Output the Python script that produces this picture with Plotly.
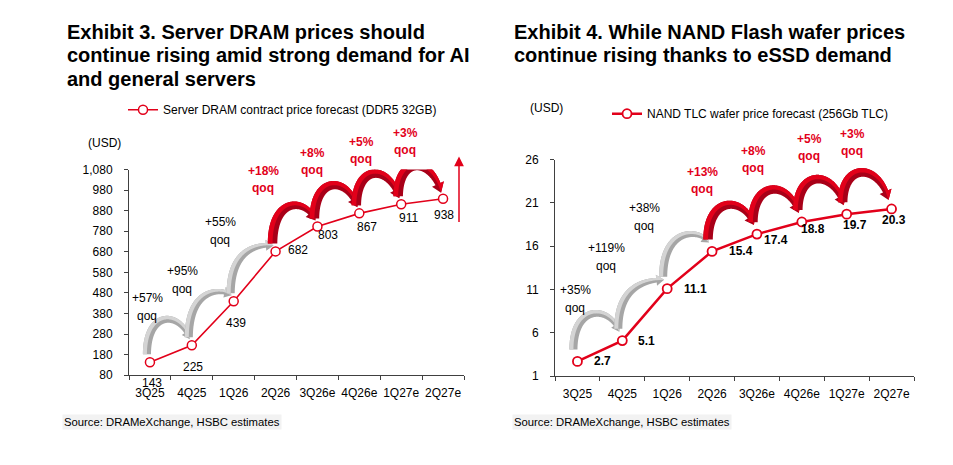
import numpy as np
import plotly.graph_objects as go

W, H = 953, 465          # browser window
OX = OY = 8              # default page margin around the figure
FW, FH = W - 2 * OX, H - 2 * OY
VS, VO = 0.971, 7.3      # vertical mapping page -> photo, measured with a test frame

quarters = ["3Q25", "4Q25", "1Q26", "2Q26", "3Q26e", "4Q26e", "1Q27e", "2Q27e"]
dram_price = [143, 225, 439, 682, 803, 867, 911, 938]
nand_price = [2.7, 5.1, 11.1, 15.4, 17.4, 18.8, 19.7, 20.3]
dram_qoq = ["+57%", "+95%", "+55%", "+18%", "+8%", "+5%", "+3%"]
nand_qoq = ["+35%", "+119%", "+38%", "+13%", "+8%", "+5%", "+3%"]
dram_ticks = [80, 180, 280, 380, 480, 580, 680, 780, 880, 980, 1080]
nand_ticks = [1, 6, 11, 16, 21, 26]

RED = "#e2001a"
RED_DARK = "#a80018"
GREY = "#a6a6a6"
GREY_LIGHT = "#d4d4d4"
AXIS = "#404040"
FONT = "Liberation Sans, Arial, sans-serif"

# geometry of the two plot areas, in picture pixels
LEFT = dict(x0=129, x1=464, yt=170, yb=376, lo=80, hi=1080, xref="x", yref="y",
            tail=(-3, -8), tip=(-2, -6))
RIGHT = dict(x0=555, x1=914, yt=160, yb=377, lo=1, hi=26, xref="x2", yref="y2",
             tail=(-4, -12), tip=(-3, -9))

# label placement (pixels, +y = down)
dram_lbl_shift = [(2, 20), (1, 21), (2, 21), (22, -1), (11, 8), (8, 13), (7, 13), (1, 16)]
nand_lbl_shift = [(25, 0), (24, 0), (28, 0), (29, 0), (19, 6), (11, 7), (8, 11), (2, 11)]
dram_note_pos = [(147, 299), (182, 272), (220, 223), (263, 171), (312, 153), (361, 142), (405, 133)]
nand_note_pos = [(575, 291), (606, 249), (644, 209), (702, 172), (753, 151), (809, 139), (852, 134)]


def px(p, i):
    return p["x0"] + (i + 0.5) * (p["x1"] - p["x0"]) / 8


def py(p, v):
    return p["yb"] - (v - p["lo"]) * (p["yb"] - p["yt"]) / (p["hi"] - p["lo"])


def to_data(p, X, Y):
    i = (X - p["x0"]) * 8 / (p["x1"] - p["x0"]) - 0.5
    v = p["lo"] + (p["yb"] - Y) * (p["hi"] - p["lo"]) / (p["yb"] - p["yt"])
    return i, v


def pg(Y):
    return (Y - VO) / VS


def paper(X, Y):
    return (X - OX) / FW, 1 - (pg(Y) - OY) / FH


def xdom(p):
    return [(p["x0"] - OX) / FW, (p["x1"] - OX) / FW]


def ydom(p):
    return [1 - (pg(p["yb"]) - OY) / FH, 1 - (pg(p["yt"]) - OY) / FH]


def path_str(p, pts):
    out = []
    for k, (X, Y) in enumerate(pts):
        i, v = to_data(p, X, Y)
        out.append(("M" if k == 0 else "L") + f"{i:.4f},{v:.4f}")
    return " ".join(out) + " Z"


def bezier(P, t):
    t = t[:, None]
    u = 1 - t
    return u**3 * P[0] + 3 * u * u * t * P[1] + 3 * u * t * t * P[2] + t**3 * P[3]


def curved_arrow(p, vals, i, base, light, scale):
    p0 = np.array([px(p, i) + p["tail"][0], py(p, vals[i]) + p["tail"][1]])
    p3 = np.array([px(p, i + 1) + p["tip"][0], py(p, vals[i + 1]) + p["tip"][1]])
    diff = p0[1] - p3[1]
    h = 34 - 0.6 * diff
    top = min(p0[1], p3[1]) - h + 5
    ts = np.linspace(0, 1, 240)
    lo, hi = top - 300, top
    for _ in range(50):
        T = (lo + hi) / 2
        P = [p0, np.array([p0[0], T]), np.array([p3[0] - 10, T]), p3]
        if bezier(P, ts)[:, 1].min() < top:
            lo = T
        else:
            hi = T
    c = bezier(P, ts)
    seg = np.hypot(*np.diff(c, axis=0).T)
    s = np.concatenate([[0], np.cumsum(seg)])
    head_len = 9 * scale
    keep = s <= s[-1] - head_len
    cb = c[keep]
    tang = np.gradient(c, axis=0)[keep]
    tang /= np.hypot(tang[:, 0], tang[:, 1])[:, None]
    nrm = np.stack([-tang[:, 1], tang[:, 0]], axis=1)
    u = s[keep] / s[keep][-1]
    w = (9.5 - 4 * u + 1.5 * np.sin(np.pi * u)) * scale
    outer = cb - nrm * (w / 2)[:, None]
    inner = cb + nrm * (w / 2)[:, None]
    B, nB = cb[-1], nrm[-1]
    hw = 13 * scale
    poly = list(outer) + [B - nB * hw / 2, p3, B + nB * hw / 2] + list(inner[::-1])
    strip = list(outer) + [B - nB * hw / 2, p3, B] + list(cb[::-1])
    shapes = []
    for pts, col in ((poly, base), (strip, light)):
        shapes.append(dict(type="path", xref=p["xref"], yref=p["yref"], path=path_str(p, pts),
                           fillcolor=col, line=dict(width=0), layer="below"))
    return shapes


fig = go.Figure()
fig.add_trace(go.Scatter(
    x=quarters, y=dram_price, mode="lines+markers", xaxis="x", yaxis="y",
    name="Server DRAM contract price forecast (DDR5 32GB)", legend="legend", showlegend=True,
    line=dict(color=RED, width=1.6),
    marker=dict(size=9, color="white", line=dict(color=RED, width=1.5)),
    cliponaxis=False, hoverinfo="skip"))
fig.add_trace(go.Scatter(
    x=quarters, y=nand_price, mode="lines+markers", xaxis="x2", yaxis="y2",
    name="NAND TLC wafer price forecast (256Gb TLC)", legend="legend2", showlegend=True,
    line=dict(color=RED, width=2.5),
    marker=dict(size=9, color="white", line=dict(color=RED, width=1.8)),
    cliponaxis=False, hoverinfo="skip"))

shapes = []
for p, vals in ((LEFT, dram_price), (RIGHT, nand_price)):
    for i in range(len(vals) - 1):
        if i < 3:
            shapes += curved_arrow(p, vals, i, GREY, GREY_LIGHT, 0.85)
        else:
            shapes += curved_arrow(p, vals, i, RED_DARK, RED, 1.0)

ann = []


def text(X, Y, s, size=12, color="black", anchor="center", bg=None):
    x, y = paper(X, Y)
    d = dict(x=x, y=y, xref="paper", yref="paper", text=s, showarrow=False,
             xanchor=anchor, yanchor="middle", font=dict(family=FONT, size=size, color=color))
    if bg:
        d["bgcolor"] = bg
        d["borderpad"] = 1
    ann.append(d)


# titles
for k, line in enumerate(["Exhibit 3. Server DRAM prices should",
                          "continue rising amid strong demand for AI",
                          "and general servers"]):
    text(65, 32 + 23.5 * k, f"<b>{line}</b>", size=20, anchor="left")
for k, line in enumerate(["Exhibit 4. While NAND Flash wafer prices",
                          "continue rising thanks to eSSD demand"]):
    text(512, 32 + 23.5 * k, f"<b>{line}</b>", size=20, anchor="left")

text(86, 143, "(USD)", anchor="left")
text(528, 108, "(USD)", anchor="left")
text(62, 423, "Source: DRAMeXchange, HSBC estimates", size=11.3, anchor="left", bg="#f2f2f2")
text(512, 423, "Source: DRAMeXchange, HSBC estimates", size=11.3, anchor="left", bg="#f2f2f2")

# qoq notes
for notes, pos in ((dram_qoq, dram_note_pos), (nand_qoq, nand_note_pos)):
    for k, (s, (X, Y)) in enumerate(zip(notes, pos)):
        if k < 3:
            text(X, Y, s)
            text(X, Y + 17.5, "qoq")
        else:
            text(X, Y, f"<b>{s}</b>", color=RED)
            text(X, Y + 17.5, "<b>qoq</b>", color=RED)

# value labels
for q, v, (dx, dy) in zip(quarters, dram_price, dram_lbl_shift):
    ann.append(dict(x=q, y=v, xref="x", yref="y", text=f"{v:,}", showarrow=False,
                    xshift=dx, yshift=-dy / VS, font=dict(family=FONT, size=12, color="black")))
for q, v, (dx, dy) in zip(quarters, nand_price, nand_lbl_shift):
    ann.append(dict(x=q, y=v, xref="x2", yref="y2", text=f"<b>{v:.1f}</b>", showarrow=False,
                    xshift=dx, yshift=-dy / VS, font=dict(family=FONT, size=12, color="black")))

# upward arrow at the right of exhibit 3
tx, ty = paper(459, 157)
ann.append(dict(x=tx, y=ty, xref="paper", yref="paper", text="", showarrow=True,
                ax=0, ay=65 / VS, arrowcolor=RED, arrowwidth=1.5, arrowhead=2, arrowsize=1.3))

axis_common = dict(showline=True, linecolor=AXIS, linewidth=1, ticks="outside", ticklen=4,
                   tickcolor=AXIS, showgrid=False, zeroline=False,
                   tickfont=dict(family=FONT, size=12, color="black"))

lx, ly = paper(123, 110)
rx, ry = paper(607, 114)
fig.update_layout(
    width=FW, height=FH,
    margin=dict(l=0, r=0, t=0, b=0),
    paper_bgcolor="white", plot_bgcolor="white",
    font=dict(family=FONT, size=12, color="black"),
    showlegend=True,
    xaxis=dict(domain=xdom(LEFT), anchor="y", type="category",
               categoryorder="array", categoryarray=quarters, range=[-0.5, 7.5],
               tickson="boundaries", tickangle=0, ticklabelstandoff=6, **axis_common),
    yaxis=dict(domain=ydom(LEFT), anchor="x",
               range=[LEFT["lo"], LEFT["hi"]], tickvals=dram_ticks, tickformat=",",
               ticklabelstandoff=9, **axis_common),
    xaxis2=dict(domain=xdom(RIGHT), anchor="y2", type="category",
                categoryorder="array", categoryarray=quarters, range=[-0.5, 7.5],
                tickson="boundaries", tickangle=0, ticklabelstandoff=6, **axis_common),
    yaxis2=dict(domain=ydom(RIGHT), anchor="x2",
                range=[RIGHT["lo"], RIGHT["hi"]], tickvals=nand_ticks,
                ticklabelstandoff=9, **axis_common),
    legend=dict(x=lx, y=ly, xanchor="left", yanchor="middle",
                bgcolor="rgba(0,0,0,0)", borderwidth=0,
                font=dict(family=FONT, size=12, color="black")),
    legend2=dict(x=rx, y=ry, xanchor="left", yanchor="middle",
                 bgcolor="rgba(0,0,0,0)", borderwidth=0,
                 font=dict(family=FONT, size=12, color="black")),
    shapes=shapes,
    annotations=ann,
)

fig.write_html("out.html", config={"displayModeBar": False})
